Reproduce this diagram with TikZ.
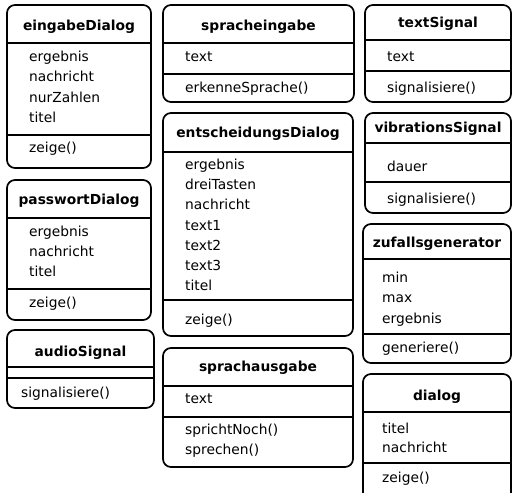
\documentclass[tikz,border=0pt]{standalone}
\usepackage{fontspec}
\setmainfont{DejaVu Sans}
\begin{document}
\begin{tikzpicture}[x=1pt,y=-1pt,
  box/.style={line width=1.7pt, rounded corners=8pt},
  sep/.style={line width=1.6pt},
  head/.style={font=\fontsize{13.8}{16}\selectfont\bfseries, inner sep=0pt, text height=9.5pt, text depth=0pt},
  entry/.style={font=\fontsize{13.8}{16}\selectfont, anchor=west, inner sep=0pt, text height=9pt, text depth=0pt}]
  \useasboundingbox (0,0) rectangle (513,492);

  % eingabeDialog
  \draw [box] (7,5) rectangle (151,168);
  \draw [sep] (7,43) -- (151,43);
  \draw [sep] (7,135) -- (151,135);
  \node [head] (eingabe) at (79,26) {eingabeDialog};
  \foreach \t [count=\i from 0] in {ergebnis,nachricht,nurZahlen,titel}
    \node [entry] (eingabe-a\i) at (29,57+20.3*\i) {\t};
  \node [entry] (eingabe-m0) at (29,148) {zeige()};

  % passwortDialog
  \draw [box] (7,180) rectangle (151,320);
  \draw [sep] (7,218) -- (151,218);
  \draw [sep] (7,289) -- (151,289);
  \node [head] (passwort) at (79,200) {passwortDialog};
  \foreach \t [count=\i from 0] in {ergebnis,nachricht,titel}
    \node [entry] (passwort-a\i) at (29,232+20*\i) {\t};
  \node [entry] (passwort-m0) at (29,303) {zeige()};

  % audioSignal
  \draw [box] (7,330) rectangle (154,408);
  \draw [sep] (7,367) -- (154,367);
  \draw [sep] (7,378) -- (154,378);
  \node [head] (audio) at (80.5,352) {audioSignal};
  \node [entry] (audio-m0) at (21,393) {signalisiere()};

  % spracheingabe
  \draw [box] (163,5) rectangle (354,102);
  \draw [sep] (163,43) -- (354,43);
  \draw [sep] (163,74) -- (354,74);
  \node [head] (eingabeSp) at (258.5,26) {spracheingabe};
  \node [entry] (eingabeSp-a0) at (185,57) {text};
  \node [entry] (eingabeSp-m0) at (185,88) {erkenneSprache()};

  % entscheidungsDialog
  \draw [box] (163,113) rectangle (353,336);
  \draw [sep] (163,152) -- (353,152);
  \draw [sep] (163,300) -- (353,300);
  \node [head] (entscheidung) at (258,133) {entscheidungsDialog};
  \foreach \t [count=\i from 0] in {ergebnis,dreiTasten,nachricht,text1,text2,text3,titel}
    \node [entry] (entscheidung-a\i) at (185,165+20.2*\i) {\t};
  \node [entry] (entscheidung-m0) at (185,320) {zeige()};

  % sprachausgabe
  \draw [box] (163,348) rectangle (353,467);
  \draw [sep] (163,386) -- (353,386);
  \draw [sep] (163,417) -- (353,417);
  \node [head] (ausgabeSp) at (258,367) {sprachausgabe};
  \node [entry] (ausgabeSp-a0) at (185,399) {text};
  \foreach \t [count=\i from 0] in {sprichtNoch(),sprechen()}
    \node [entry] (ausgabeSp-m\i) at (185,430+20*\i) {\t};

  % textSignal
  \draw [box] (365,5) rectangle (511,102);
  \draw [sep] (365,40) -- (511,40);
  \draw [sep] (365,71) -- (511,71);
  \node [head] (textSig) at (438,23) {textSignal};
  \node [entry] (textSig-a0) at (387,57) {text};
  \node [entry] (textSig-m0) at (387,88) {signalisiere()};

  % vibrationsSignal
  \draw [box] (365,113) rectangle (511,213);
  \draw [sep] (365,143) -- (511,143);
  \draw [sep] (365,182) -- (511,182);
  \node [head] (vibSig) at (438,128) {vibrationsSignal};
  \node [entry] (vibSig-a0) at (387,167) {dauer};
  \node [entry] (vibSig-m0) at (387,199) {signalisiere()};

  % zufallsgenerator
  \draw [box] (363,224) rectangle (511,363);
  \draw [sep] (363,259) -- (511,259);
  \draw [sep] (363,334) -- (511,334);
  \node [head] (zufall) at (437,243) {zufallsgenerator};
  \foreach \t [count=\i from 0] in {min,max,ergebnis}
    \node [entry] (zufall-a\i) at (382,278+20.3*\i) {\t};
  \node [entry] (zufall-m0) at (382,348) {generiere()};

  % dialog
  \draw [box] (363,374) rectangle (511,505);
  \draw [sep] (363,412) -- (511,412);
  \draw [sep] (363,463) -- (511,463);
  \node [head] (dialog) at (437,396) {dialog};
  \foreach \t [count=\i from 0] in {titel,nachricht}
    \node [entry] (dialog-a\i) at (382,429+19*\i) {\t};
  \node [entry] (dialog-m0) at (382,478) {zeige()};
\end{tikzpicture}
\end{document}
